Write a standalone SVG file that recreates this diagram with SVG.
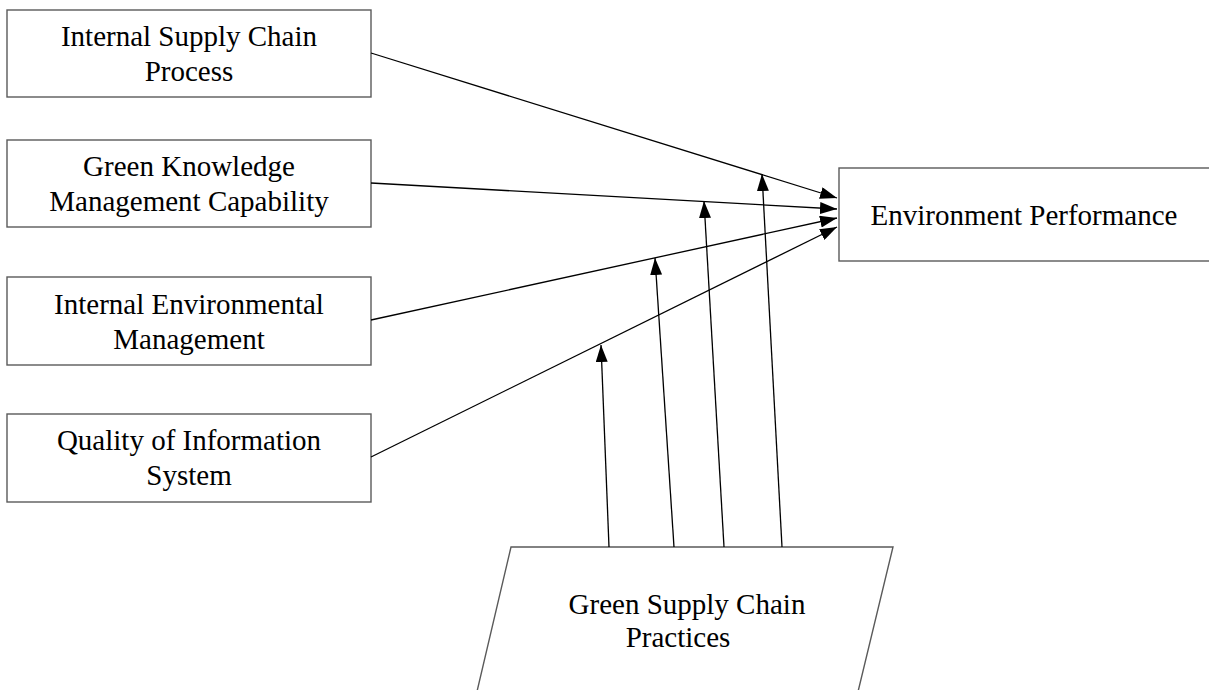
<svg xmlns="http://www.w3.org/2000/svg" width="1209" height="690" viewBox="0 0 1209 690">
<style>
.box{fill:#fff;stroke:#5a5a5a;stroke-width:1.4}
.t{font-family:"Liberation Serif","Times New Roman",serif;font-size:29px;fill:#000;text-anchor:middle}
.c{stroke:#000;stroke-width:1.3;fill:none}
</style>
<defs>
<marker id="ah" viewBox="0 0 17 12" refX="17" refY="6" markerWidth="17" markerHeight="12" markerUnits="userSpaceOnUse" orient="auto">
<path d="M0,0 L17,6 L0,12 Z" fill="#000"/>
</marker>
</defs>
<rect width="1209" height="690" fill="#fff"/>
<g id="n1">
<rect class="box" x="7" y="10" width="364" height="87"/>
<text class="t" x="189" y="46">Internal Supply Chain</text>
<text class="t" x="189" y="81">Process</text>
</g>
<g id="n2">
<rect class="box" x="7" y="140" width="364" height="87"/>
<text class="t" x="189" y="176">Green Knowledge</text>
<text class="t" x="189" y="211">Management Capability</text>
</g>
<g id="n3">
<rect class="box" x="7" y="277" width="364" height="88"/>
<text class="t" x="189" y="314">Internal Environmental</text>
<text class="t" x="189" y="349">Management</text>
</g>
<g id="n4">
<rect class="box" x="7" y="414" width="364" height="88"/>
<text class="t" x="189" y="450">Quality of Information</text>
<text class="t" x="189" y="485">System</text>
</g>
<g id="n5">
<rect class="box" x="839" y="168" width="420" height="93"/>
<text class="t" x="1024" y="225">Environment Performance</text>
</g>
<g id="n6">
<polygon class="box" stroke="#000" points="511,547 893,547 856,700 475,700"/>
<text class="t" x="687" y="614">Green Supply Chain</text>
<text class="t" x="678" y="647">Practices</text>
</g>
<g id="connectors">
<line class="c" x1="371" y1="53" x2="837" y2="198" marker-end="url(#ah)"/>
<line class="c" x1="371" y1="183" x2="837" y2="209" marker-end="url(#ah)"/>
<line class="c" x1="371" y1="320" x2="837" y2="218" marker-end="url(#ah)"/>
<line class="c" x1="371" y1="457" x2="837" y2="227" marker-end="url(#ah)"/>
<line class="c" x1="609" y1="547" x2="601" y2="345" marker-end="url(#ah)"/>
<line class="c" x1="674" y1="547" x2="655" y2="258" marker-end="url(#ah)"/>
<line class="c" x1="724" y1="547" x2="704" y2="201" marker-end="url(#ah)"/>
<line class="c" x1="782" y1="547" x2="762" y2="174" marker-end="url(#ah)"/>
</g>
</svg>
